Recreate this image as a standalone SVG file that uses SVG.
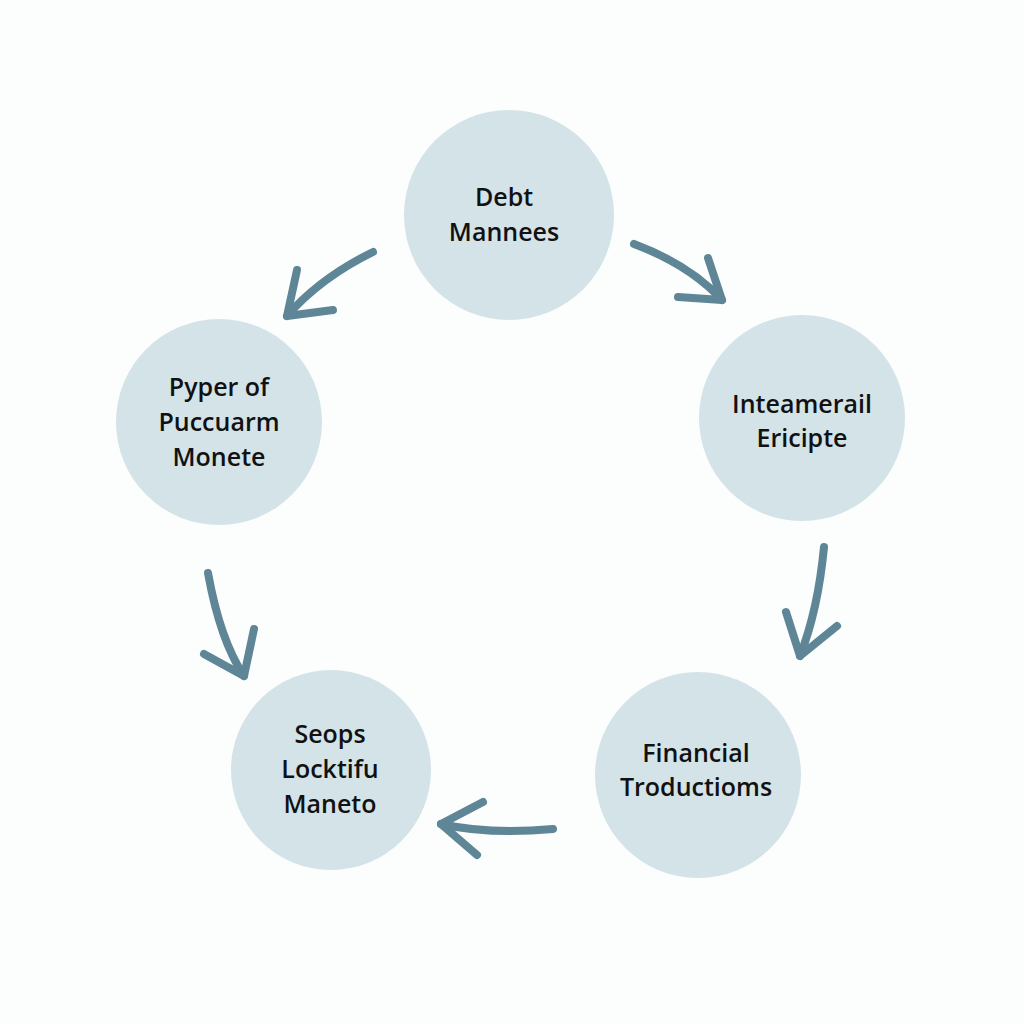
<svg xmlns="http://www.w3.org/2000/svg" width="1024" height="1024" viewBox="0 0 1024 1024">
<style>
.n{fill:#d3e3e8}
.t{font-family:"Open Sans","Liberation Sans",sans-serif;font-size:25px;font-weight:600;fill:#111;text-anchor:middle}
.c{fill:none;stroke:#5f8697;stroke-width:8;stroke-linecap:round;stroke-linejoin:round}
</style>
<rect width="1024" height="1024" fill="#fcfdfd"/>
<g id="n1"><circle class="n" cx="509" cy="215" r="105"/><text class="t" x="504" y="206">Debt</text><text class="t" x="504" y="241">Mannees</text></g>
<g id="n2"><circle class="n" cx="802" cy="418" r="103"/><text class="t" x="802" y="413">Inteamerail</text><text class="t" x="802" y="447">Ericipte</text></g>
<g id="n3"><circle class="n" cx="698" cy="775" r="103"/><text class="t" x="696" y="762">Financial</text><text class="t" x="696" y="796">Troductioms</text></g>
<g id="n4"><circle class="n" cx="331" cy="770" r="100"/><text class="t" x="330" y="743">Seops</text><text class="t" x="330" y="778">Locktifu</text><text class="t" x="330" y="813">Maneto</text></g>
<g id="n5"><circle class="n" cx="219" cy="422" r="103"/><text class="t" x="219" y="396">Pyper of</text><text class="t" x="219" y="431">Puccuarm</text><text class="t" x="219" y="466">Monete</text></g>
<g id="connectors">
<path class="c" d="M373,252 Q320,278 287,316"/><path class="c" d="M297,270 L287,316 L333,310"/>
<path class="c" d="M634,244 Q690,265 722,300"/><path class="c" d="M708,258 L722,300 L678,297"/>
<path class="c" d="M824,547 Q818,610 800,656"/><path class="c" d="M786,612 L800,656 L837,626"/>
<path class="c" d="M553,829 Q490,835 441,824"/><path class="c" d="M483,802 L441,824 L477,855"/>
<path class="c" d="M208,573 Q220,640 244,676"/><path class="c" d="M204,654 L244,676 L254,629"/>
</g>
</svg>
